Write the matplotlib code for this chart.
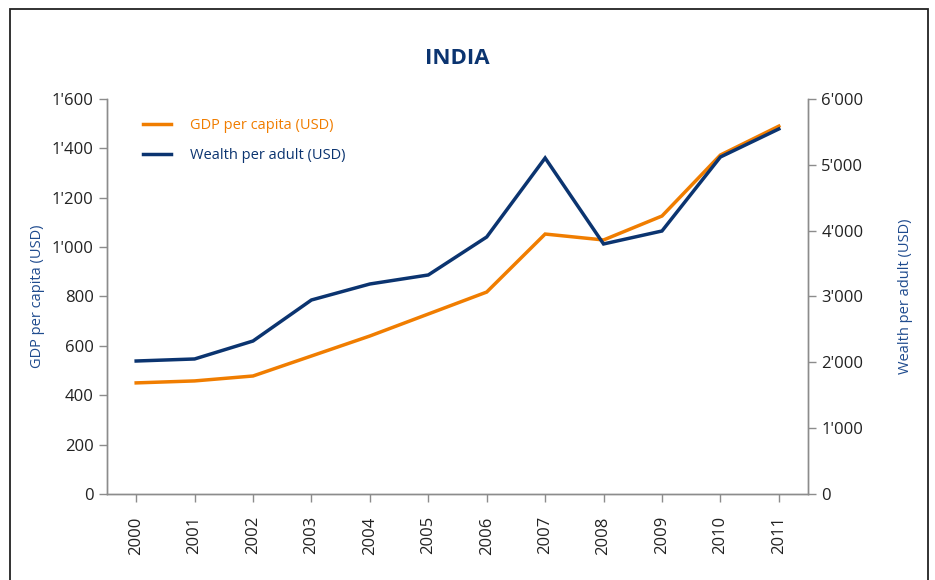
import matplotlib.pyplot as plt
from matplotlib.patches import Rectangle
from matplotlib.ticker import FuncFormatter

years = ['2000', '2001', '2002', '2003', '2004', '2005',
         '2006', '2007', '2008', '2009', '2010', '2011']
gdp = [450, 458, 478, 559, 640, 729, 818, 1053, 1029, 1126, 1373, 1490]
wealth = [2020, 2051, 2324, 2947, 3190, 3327, 3904, 5104, 3798, 3995, 5119, 5545]

orange = '#f07d00'
navy = '#0b3470'
label_blue = '#1f4b8e'
tick_col = '#222222'
spine_col = '#8c8c8c'

plt.rcParams['font.family'] = ['Open Sans', 'DejaVu Sans']


def apos(v, pos):
    v = int(round(v))
    return f'{v:,}'.replace(',', "'")


fig = plt.figure(figsize=(9.35, 5.8), dpi=100)
fig.patches.append(Rectangle((10 / 935, -0.1), 918 / 935, 1.1 - 9 / 580,
                             transform=fig.transFigure, fill=False,
                             edgecolor='#222222', linewidth=1.3))

ax = fig.add_axes([0.1144, 0.1483, 0.7498, 0.681])
ax2 = ax.twinx()

x = range(len(years))
l1, = ax.plot(x, gdp, color=orange, linewidth=2.5, label='GDP per capita (USD)',
              solid_joinstyle='miter')
l2, = ax2.plot(x, wealth, color=navy, linewidth=2.5, label='Wealth per adult (USD)',
               solid_joinstyle='miter')

ax.set_xlim(-0.5, len(years) - 0.5)
ax.set_ylim(0, 1600)
ax2.set_ylim(0, 6000)
ax.set_yticks(range(0, 1601, 200))
ax2.set_yticks(range(0, 6001, 1000))
ax.yaxis.set_major_formatter(FuncFormatter(apos))
ax2.yaxis.set_major_formatter(FuncFormatter(apos))
ax.set_xticks(list(x))
ax.set_xticklabels(years, rotation=90)

for a in (ax, ax2):
    a.spines['top'].set_visible(False)
    for s in ('left', 'right', 'bottom'):
        a.spines[s].set_color(spine_col)
        a.spines[s].set_linewidth(1.0)
    a.tick_params(colors=spine_col, labelcolor=tick_col, labelsize=12,
                  length=6, width=1.0, direction='out')
ax.tick_params(axis='x', pad=10)

ax.set_ylabel('GDP per capita (USD)', color=label_blue, fontsize=10.5, labelpad=5)
ax2.set_ylabel('Wealth per adult (USD)', color=label_blue, fontsize=10.5, labelpad=25)

ax.set_title('INDIA', color=navy, fontsize=16, fontweight='bold', pad=25)

leg = ax.legend(handles=[l1, l2], loc='upper left', bbox_to_anchor=(0.033, 0.985),
                frameon=False, fontsize=10.5, handlelength=1.9, handletextpad=1.3,
                labelspacing=1.05)
for t, c in zip(leg.get_texts(), [orange, navy]):
    t.set_color(c)

fig.savefig('out.png', dpi=100)
